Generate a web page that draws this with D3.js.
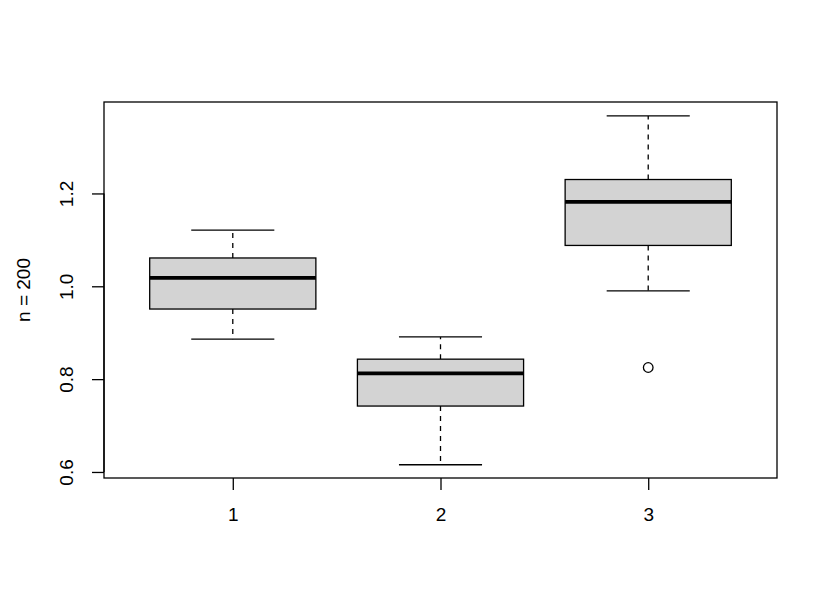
<!DOCTYPE html>
<html>
<head>
<meta charset="utf-8">
<script src="https://cdn.jsdelivr.net/npm/d3@7"></script>
<style>
body { margin: 0; background: #fff; }
text { font-family: "Liberation Sans", Arial, sans-serif; }
</style>
</head>
<body>
<script>
// groupes et stats
var groupes = ["1", "2", "3"];
var basMoustache = [0.886, 0.6155, 0.990];
var q1 = [0.951, 0.742, 1.088];
var mediane = [1.018, 0.8125, 1.182];
var q3 = [1.061, 0.843, 1.230];
var hautMoustache = [1.121, 0.891, 1.367];
var aberrants = [[], [], [0.825]];
var ticksY = [0.6, 0.8, 1.0, 1.2];
var titreY = "n = 200";

var larg = 830, haut = 608;
var gauche = 104, droite = 777, dessus = 102, dessous = 478;
var taille = 19; // taille du texte
var trait = 1.3;

var svg = d3.select("body").append("svg")
	.attr("width", larg)
	.attr("height", haut);

// echelles facon R (4% de marge)
var x = d3.scaleLinear().domain([0.38, 3.62]).range([gauche, droite]);
var y = d3.scaleLinear().domain([0.587, 1.397]).range([dessous, dessus]);

var unite = x(1) - x(0);
var demiBoite = 0.4 * unite;
var demiAgrafe = 0.2 * unite;

var boites = groupes.map(function(g, i) {
	return {
		g: g, pos: i + 1,
		bas: basMoustache[i], q1: q1[i], med: mediane[i], q3: q3[i], haut: hautMoustache[i],
		out: aberrants[i]
	};
});

var gb = svg.selectAll("g.boite").data(boites).enter().append("g").attr("class", "boite");

// moustaches pointillees
gb.append("line")
	.attr("x1", function(d) { return x(d.pos); })
	.attr("x2", function(d) { return x(d.pos); })
	.attr("y1", function(d) { return y(d.q3); })
	.attr("y2", function(d) { return y(d.haut); })
	.attr("stroke", "#000").attr("stroke-width", trait).attr("stroke-dasharray", "5,5");
gb.append("line")
	.attr("x1", function(d) { return x(d.pos); })
	.attr("x2", function(d) { return x(d.pos); })
	.attr("y1", function(d) { return y(d.q1); })
	.attr("y2", function(d) { return y(d.bas); })
	.attr("stroke", "#000").attr("stroke-width", trait).attr("stroke-dasharray", "5,5");

// agrafes
["haut", "bas"].forEach(function(k) {
	gb.append("line")
		.attr("x1", function(d) { return x(d.pos) - demiAgrafe; })
		.attr("x2", function(d) { return x(d.pos) + demiAgrafe; })
		.attr("y1", function(d) { return y(d[k]); })
		.attr("y2", function(d) { return y(d[k]); })
		.attr("stroke", "#000").attr("stroke-width", trait);
});

// boites
gb.append("rect")
	.attr("x", function(d) { return x(d.pos) - demiBoite; })
	.attr("width", 2 * demiBoite)
	.attr("y", function(d) { return y(d.q3); })
	.attr("height", function(d) { return y(d.q1) - y(d.q3); })
	.attr("fill", "#d3d3d3").attr("stroke", "#000").attr("stroke-width", trait);

// medianes
gb.append("line")
	.attr("x1", function(d) { return x(d.pos) - demiBoite; })
	.attr("x2", function(d) { return x(d.pos) + demiBoite; })
	.attr("y1", function(d) { return y(d.med); })
	.attr("y2", function(d) { return y(d.med); })
	.attr("stroke", "#000").attr("stroke-width", 3.8);

// points aberrants
gb.selectAll("circle").data(function(d) { return d.out.map(function(v) { return {pos: d.pos, v: v}; }); })
	.enter().append("circle")
	.attr("cx", function(d) { return x(d.pos); })
	.attr("cy", function(d) { return y(d.v); })
	.attr("r", 4.8)
	.attr("fill", "none").attr("stroke", "#000").attr("stroke-width", trait);

// cadre
svg.append("rect")
	.attr("x", gauche).attr("y", dessus)
	.attr("width", droite - gauche).attr("height", dessous - dessus)
	.attr("fill", "none").attr("stroke", "#000").attr("stroke-width", trait);

// axe x
var axeX = d3.axisBottom(x).tickValues([1, 2, 3]).tickFormat(function(d) { return groupes[d - 1]; })
	.tickSizeInner(12).tickSizeOuter(0).tickPadding(18);
var gx = svg.append("g").attr("transform", "translate(0," + dessous + ")").call(axeX);
gx.select(".domain").remove();
gx.selectAll("line").attr("stroke-width", trait);
gx.selectAll("text").attr("font-size", taille).attr("fill", "#000")
	.attr("font-family", "Liberation Sans, Arial, sans-serif");

// axe y
var axeY = d3.axisLeft(y).tickValues(ticksY).tickFormat(d3.format(".1f"))
	.tickSizeInner(12).tickSizeOuter(0).tickPadding(0);
var gy = svg.append("g").attr("transform", "translate(" + gauche + ",0)").call(axeY);
gy.select(".domain")
	.attr("d", "M0," + y(ticksY[0]) + "V" + y(ticksY[ticksY.length - 1]))
	.attr("stroke-width", trait);
gy.selectAll("line").attr("stroke-width", trait);
gy.selectAll("text").attr("font-size", taille).attr("fill", "#000")
	.attr("font-family", "Liberation Sans, Arial, sans-serif")
	.attr("text-anchor", "middle").attr("x", null)
	.attr("transform", "translate(-31,0) rotate(-90)")
	.attr("dy", "0");

// titre y
svg.append("text")
	.attr("transform", "translate(30," + ((dessus + dessous) / 2) + ") rotate(-90)")
	.attr("text-anchor", "middle")
	.attr("font-size", taille)
	.text(titreY);
</script>
</body>
</html>
